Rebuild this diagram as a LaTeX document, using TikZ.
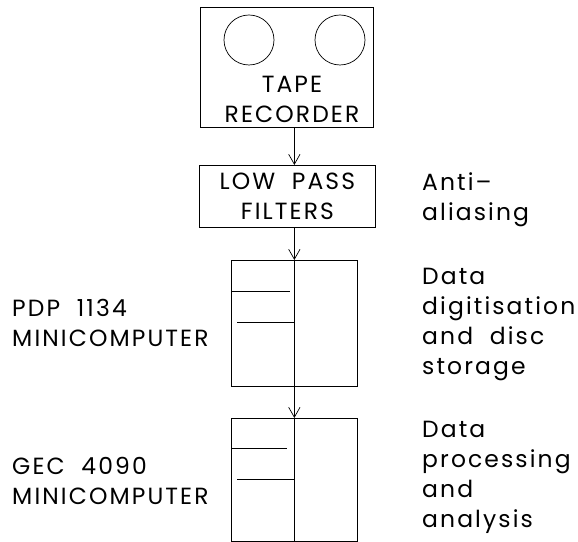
\documentclass[tikz,border=0pt]{standalone}
\usepackage{fontspec}
\setmainfont{Poppins}[LetterSpace=9, WordSpace=2]
\usetikzlibrary{arrows.meta,positioning,calc}

\begin{document}
\begin{tikzpicture}[
  x=0.03cm, y=-0.03cm, >={Straight Barb[length=3mm,width=3.4mm]},
  box/.style={draw=black, line width=0.6pt, inner sep=0pt, anchor=north west},
  reel/.style={draw=black, line width=0.6pt, circle, minimum size=1.5cm, inner sep=0pt},
  lbl/.style={font=\fontsize{20pt}{25.8pt}\selectfont, align=left, anchor=base west, inner sep=0pt},
  arrow/.style={->, line width=0.6pt, black}
]
\useasboundingbox (0,0) rectangle (578,542);

% tape recorder
\node[box, minimum width=5.19cm, minimum height=3.6cm] (tape) at (200,7) {};
\node[reel] (reelL) at (249,40) {};
\node[reel] (reelR) at (340,40) {};
\node[lbl, align=center, anchor=base] (tapetxt) at (292,123) {TAPE\\RECORDER};

% filters
\node[box, minimum width=5.28cm, minimum height=1.86cm, font=\fontsize{20pt}{25.8pt}\selectfont, align=center] (filt) at (199,165) {LOW PASS\\FILTERS};

% computers
\node[box, minimum width=3.78cm, minimum height=3.78cm] (pdp) at (231,260) {};
\node[box, minimum width=3.78cm, minimum height=3.69cm] (gec) at (231,418) {};

\draw[line width=0.6pt] ($(pdp.north west)+(0,31)$) -- ++(59,0);
\draw[line width=0.6pt] ($(pdp.north west)+(6,62)$) -- ++(57,0);
\draw[line width=0.6pt] ($(gec.north west)+(0,30)$) -- ++(56,0);
\draw[line width=0.6pt] ($(gec.north west)+(6,61)$) -- ++(57,0);

% flow
\draw[arrow] (tape.south -| pdp.north) -- (filt.north -| pdp.north);
\draw[arrow] (filt.south -| pdp.north) -- (pdp.north);
\draw[arrow] (pdp.north) -- (gec.north);
\draw[line width=0.6pt] (gec.north) -- (gec.south);

% labels
\node[lbl] (pdplbl) at (12,347) {PDP 1134\\MINICOMPUTER};
\node[lbl] (geclbl) at (12,505) {GEC 4090\\MINICOMPUTER};
\node[lbl] (filtnote) at (422,221) {Anti--\\aliasing};
\node[lbl] (pdpnote) at (422,375) {Data\\digitisation\\and disc\\storage};
\node[lbl] (gecnote) at (422,528) {Data\\processing\\and\\analysis};

\end{tikzpicture}
\end{document}
